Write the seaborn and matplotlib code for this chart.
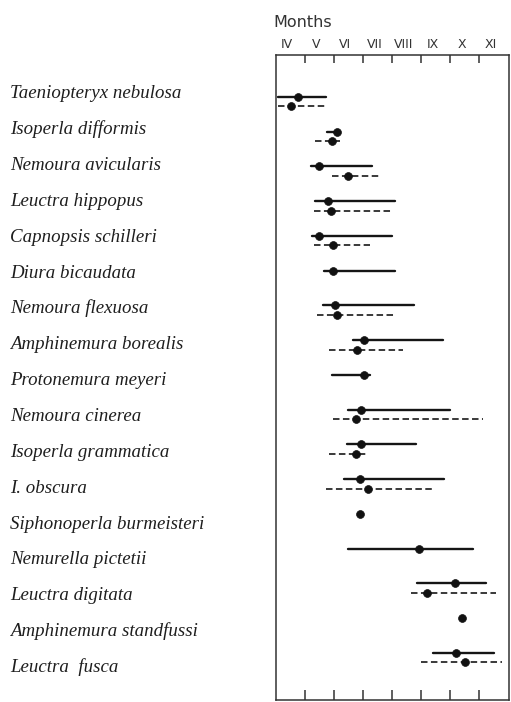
import numpy as np
import pandas as pd
import matplotlib
matplotlib.use("Agg")
import matplotlib.pyplot as plt
from matplotlib.transforms import blended_transform_factory
import seaborn as sns

# Flight periods of stoneflies, in months counted from 1 April (0 = start of April)
species = [
    "Taeniopteryx nebulosa", "Isoperla difformis", "Nemoura avicularis",
    "Leuctra hippopus", "Capnopsis schilleri", "Diura bicaudata",
    "Nemoura flexuosa", "Amphinemura borealis", "Protonemura meyeri",
    "Nemoura cinerea", "Isoperla grammatica", "I. obscura",
    "Siphonoperla burmeisteri", "Nemurella pictetii", "Leuctra digitata",
    "Amphinemura standfussi", "Leuctra  fusca",
]
nan = np.nan
# first site (solid lines)
solid_start = [0.10, 1.78, 1.23, 1.37, 1.26, 1.68, 1.64, 2.67, 1.95, 2.48, 2.44, 2.35, nan, 2.48, 4.85, nan, 5.41]
solid_end   = [1.72, 2.23, 3.32, 4.12, 3.99, 4.09, 4.75, 5.76, 3.24, 5.99, 4.81, 5.78, nan, 6.78, 7.24, nan, 7.50]
solid_peak  = [0.78, 2.10, 1.49, 1.80, 1.49, 1.97, 2.06, 3.03, 3.03, 2.94, 2.94, 2.89, 2.90, 4.92, 6.16, 6.39, 6.19]
# second site (dashed lines)
dashed_start = [0.10, 1.34, 1.95, 1.32, 1.32, nan, 1.43, 1.83, nan, 1.98, 1.83, 1.75, nan, nan, 4.66, nan, 4.98]
dashed_end   = [1.78, 2.21, 3.57, 3.95, 3.24, nan, 4.12, 4.39, nan, 7.14, 3.17, 5.38, nan, nan, 7.56, nan, 7.76]
dashed_peak  = [0.54, 1.95, 2.48, 1.89, 1.98, nan, 2.10, 2.81, nan, 2.78, 2.75, 3.17, nan, nan, 5.21, nan, 6.49]

months = ["IV", "V", "VI", "VII", "VIII", "IX", "X", "XI"]

W, H = 511, 702
sns.set_style("white")
fig = plt.figure(figsize=(W / 100, H / 100), dpi=100)
ax = fig.add_axes([275.5 / W, 1 - 700 / H, 233 / W, 645 / H])

row_px0, row_step = 96.8, 34.75          # pixel row layout
dash_off = 9.6 / row_step                  # dashed line sits just below the solid one

segs, dots = [], []
for i, name in enumerate(species):
    if not np.isnan(solid_start[i]):
        for x in (solid_start[i], solid_end[i]):
            segs.append(dict(unit=f"{i}s", kind="solid", month=x, row=i))
    if not np.isnan(solid_peak[i]):
        dots.append(dict(month=solid_peak[i], row=i))
    if not np.isnan(dashed_start[i]):
        for x in (dashed_start[i], dashed_end[i]):
            segs.append(dict(unit=f"{i}d", kind="dashed", month=x, row=i + dash_off))
    if not np.isnan(dashed_peak[i]):
        dots.append(dict(month=dashed_peak[i], row=i + dash_off))
seg_df = pd.DataFrame(segs)
dot_df = pd.DataFrame(dots)

for kind, lw, col in (("solid", 1.7, "#151515"), ("dashed", 1.3, "#2a2a2a")):
    sub = seg_df[seg_df.kind == kind]
    sns.lineplot(data=sub, x="month", y="row", units="unit", estimator=None,
                 sort=False, color=col, lw=lw, ax=ax, legend=False,
                 linestyle="-" if kind == "solid" else (0, (3.6, 1.9)))

sns.scatterplot(data=dot_df, x="month", y="row", s=32, color="#111111",
                edgecolor="#111111", linewidth=0.5, ax=ax, legend=False, zorder=5)

ax.set_xlim(0, 8)
ax.set_ylim((700 - row_px0) / row_step, (55 - row_px0) / row_step)
ax.set_xlabel("")
ax.set_ylabel("")
ax.set_yticks([])
ax.set_xticks(range(1, 8))
ax.set_xticklabels([])
ax.tick_params(axis="x", which="major", top=True, bottom=True, direction="in",
               width=1.1, color="#333333")
for t in ax.xaxis.get_major_ticks():
    t.tick1line.set_markersize(7.0)
    t.tick2line.set_markersize(5.8)
for sp in ax.spines.values():
    sp.set_visible(True)
    sp.set_linewidth(1.1)
    sp.set_color("#333333")

# month names above the frame
tr = blended_transform_factory(ax.transData, fig.transFigure)
for k, m in enumerate(months):
    ax.text(k + 0.4, 1 - 48.5 / H, m, transform=tr, ha="center", va="baseline",
            fontsize=9, family="DejaVu Sans", color="#333333")
fig.text(273 / W, 1 - 26.7 / H, "Months", ha="left", va="baseline",
         fontsize=11.5, family="DejaVu Sans", color="#333333")

# species names
for i, name in enumerate(species):
    fig.text(10 / W, 1 - (98.3 + 35.86 * i) / H, name, ha="left", va="baseline",
             fontsize=13.6, family="Liberation Serif", fontstyle="italic",
             color="#1e1e1e")

fig.savefig("out.png", dpi=100, facecolor="white")
